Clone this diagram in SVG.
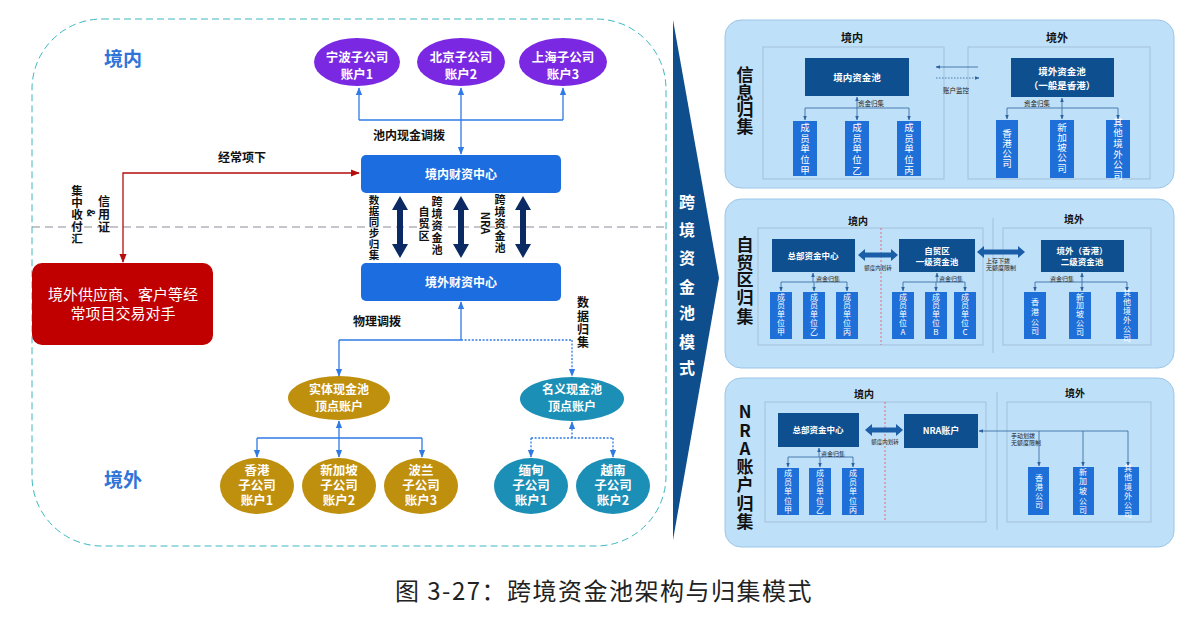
<svg xmlns="http://www.w3.org/2000/svg" width="1198" height="632" viewBox="0 0 1198 632">
  <style>
    text { font-family: "Noto Sans CJK SC", "Noto Sans", sans-serif; }
    .b { font-weight: bold; }
    .w { fill: #ffffff; }
    .c { text-anchor: middle; }
    .zone { font-size: 19px; font-weight: bold; fill: #2f74d8; text-anchor: middle; }
    .lbl { font-size: 12px; font-weight: bold; fill: #111; text-anchor: middle; }
    .vl { font-size: 11px; font-weight: bold; fill: #111; text-anchor: middle; }
    .ell { font-size: 12.5px; font-weight: bold; fill: #fff; text-anchor: middle; }
    .blue { stroke: #2f7ae5; stroke-width: 1.3; fill: none; }
    .dot { stroke-dasharray: 2 1.6; }
    .thin { stroke: #2d62a0; stroke-width: 0.8; fill: none; }
    .panel { fill: #bfe0f9; stroke: #9cc6e8; stroke-width: 1; }
    .region { fill: none; stroke: #a3bfdc; stroke-width: 1; }
    .pool { fill: #0d4f8f; }
    .mem { fill: #1f6fd9; }
    .mt { font-size: 9.5px; fill: #fff; text-anchor: middle; }
    .ms { font-size: 8px; fill: #fff; text-anchor: middle; }
    .pt { font-size: 9.5px; font-weight: bold; fill: #fff; text-anchor: middle; }
    .rl { font-size: 11px; font-weight: bold; fill: #111; text-anchor: middle; }
    .tiny { font-size: 6.5px; fill: #222; }
    .side { font-size: 17px; font-weight: bold; fill: #111; text-anchor: middle; }
  </style>
  <defs>
    <marker id="ab" viewBox="0 0 10 10" refX="9" refY="5" markerWidth="8" markerHeight="8" markerUnits="userSpaceOnUse" orient="auto-start-reverse">
      <path d="M0,1 L10,5 L0,9 z" fill="#2f7ae5"/>
    </marker>
    <marker id="ar" viewBox="0 0 10 10" refX="9" refY="5" markerWidth="9" markerHeight="9" markerUnits="userSpaceOnUse" orient="auto-start-reverse">
      <path d="M0,1 L10,5 L0,9 z" fill="#b50d0d"/>
    </marker>
    <marker id="as" viewBox="0 0 10 10" refX="9" refY="5" markerWidth="4.5" markerHeight="4.5" markerUnits="userSpaceOnUse" orient="auto-start-reverse">
      <path d="M0,1 L10,5 L0,9 z" fill="#2d62a0"/>
    </marker>
  </defs>

  <rect width="1198" height="632" fill="#ffffff"/>

  <!-- left: structure of the pool -->
  <g id="frame">
    <rect x="32" y="19" width="634" height="527" rx="70" fill="none" stroke="#3cb8c2" stroke-width="1" stroke-dasharray="7 4"/>
    <line x1="32" y1="227" x2="668" y2="227" stroke="#8a8c98" stroke-width="1" stroke-dasharray="8 5"/>
    <text class="zone" x="123" y="66">境内</text>
    <text class="zone" x="123" y="487">境外</text>
  </g>

  <g id="connectors">
    <!-- domestic sub-accounts -->
    <path class="blue" d="M359,120 H563"/>
    <line class="blue" x1="359" y1="120" x2="359" y2="88" marker-end="url(#ab)"/>
    <line class="blue" x1="461" y1="120" x2="461" y2="88" marker-end="url(#ab)"/>
    <line class="blue" x1="563" y1="120" x2="563" y2="88" marker-end="url(#ab)"/>
    <line class="blue" x1="461" y1="120" x2="461" y2="154" marker-end="url(#ab)"/>
    <text class="lbl" x="409" y="140">池内现金调拨</text>

    <!-- current account flow -->
    <path d="M123,262 V173 H359" fill="none" stroke="#b50d0d" stroke-width="1.3" marker-start="url(#ar)" marker-end="url(#ar)"/>
    <text class="lbl" x="242" y="162">经常项下</text>
    <text class="vl" style="font-size:11.5px"><tspan x="77" y="195">集</tspan><tspan x="77" y="207">中</tspan><tspan x="77" y="219">收</tspan><tspan x="77" y="231">付</tspan><tspan x="77" y="243">汇</tspan></text>
    <text class="vl" style="font-size:12px"><tspan x="104" y="206">信</tspan><tspan x="104" y="219">用</tspan><tspan x="104" y="232">证</tspan></text>
    <text class="vl" style="font-size:10px" transform="translate(87,213) rotate(90)">&amp;</text>

    <!-- double arrows between centres -->
    <g fill="#0b2a63">
      <path d="M400,196 L408,210 L403,210 L403,244 L408,244 L400,258 L392,244 L397,244 L397,210 L392,210 Z"/>
      <path d="M461,196 L469,210 L464,210 L464,244 L469,244 L461,258 L453,244 L458,244 L458,210 L453,210 Z"/>
      <path d="M523,196 L531,210 L526,210 L526,244 L531,244 L523,258 L515,244 L520,244 L520,210 L515,210 Z"/>
    </g>
    <text class="vl" style="font-size:10.5px"><tspan x="374" y="204">数</tspan><tspan x="374" y="215">据</tspan><tspan x="374" y="226">同</tspan><tspan x="374" y="237">步</tspan><tspan x="374" y="248">归</tspan><tspan x="374" y="259">集</tspan></text>
    <text class="vl"><tspan x="437" y="206">跨</tspan><tspan x="437" y="218">境</tspan><tspan x="437" y="230">资</tspan><tspan x="437" y="242">金</tspan><tspan x="437" y="254">池</tspan></text>
    <text class="vl"><tspan x="424" y="216">自</tspan><tspan x="424" y="228">贸</tspan><tspan x="424" y="240">区</tspan></text>
    <text class="vl"><tspan x="500" y="204">跨</tspan><tspan x="500" y="216">境</tspan><tspan x="500" y="228">资</tspan><tspan x="500" y="240">金</tspan><tspan x="500" y="252">池</tspan></text>
    <text class="vl" transform="translate(481,223) rotate(90)">NRA</text>

    <!-- offshore centre to pools -->
    <line class="blue" x1="461" y1="340" x2="461" y2="302" marker-end="url(#ab)"/>
    <path class="blue" d="M339,340 H461"/>
    <path class="blue dot" d="M461,340 H572"/>
    <line class="blue" x1="339" y1="340" x2="339" y2="376" marker-end="url(#ab)"/>
    <line class="blue dot" x1="572" y1="340" x2="572" y2="376" marker-end="url(#ab)"/>
    <text class="lbl" x="377" y="326">物理调拨</text>
    <text class="lbl"><tspan x="583" y="307">数</tspan><tspan x="583" y="321">据</tspan><tspan x="583" y="334">归</tspan><tspan x="583" y="347">集</tspan></text>

    <!-- physical pool members -->
    <line class="blue" x1="339" y1="438" x2="339" y2="421" marker-end="url(#ab)"/>
    <path class="blue" d="M257,438 H422"/>
    <line class="blue" x1="257" y1="438" x2="257" y2="457" marker-end="url(#ab)"/>
    <line class="blue" x1="339" y1="438" x2="339" y2="457" marker-end="url(#ab)"/>
    <line class="blue" x1="422" y1="438" x2="422" y2="457" marker-end="url(#ab)"/>

    <!-- notional pool members -->
    <line class="blue dot" x1="572" y1="438" x2="572" y2="422" marker-end="url(#ab)"/>
    <path class="blue dot" d="M531,438 H613"/>
    <line class="blue dot" x1="531" y1="438" x2="531" y2="457" marker-end="url(#ab)"/>
    <line class="blue dot" x1="613" y1="438" x2="613" y2="457" marker-end="url(#ab)"/>
  </g>

  <g id="ningbo">
    <ellipse cx="357" cy="62" rx="43" ry="24" fill="#7a28e2"/>
    <text class="ell"><tspan x="357" y="62">宁波子公司</tspan><tspan x="357" y="79">账户1</tspan></text>
  </g>
  <g id="beijing">
    <ellipse cx="461" cy="62" rx="44" ry="24" fill="#7a28e2"/>
    <text class="ell"><tspan x="461" y="62">北京子公司</tspan><tspan x="461" y="79">账户2</tspan></text>
  </g>
  <g id="shanghai">
    <ellipse cx="563" cy="62" rx="44" ry="24" fill="#7a28e2"/>
    <text class="ell"><tspan x="563" y="62">上海子公司</tspan><tspan x="563" y="79">账户3</tspan></text>
  </g>

  <g id="onshore-centre">
    <rect x="361" y="155" width="200" height="38" rx="5" fill="#1c6ee0"/>
    <text class="ell" x="461" y="179" style="font-size:12px">境内财资中心</text>
  </g>
  <g id="offshore-centre">
    <rect x="361" y="263" width="200" height="38" rx="5" fill="#1c6ee0"/>
    <text class="ell" x="461" y="287" style="font-size:12px">境外财资中心</text>
  </g>

  <g id="counterparty">
    <rect x="32" y="263" width="181" height="82" rx="10" fill="#c00000"/>
    <text class="c w" style="font-size:15px"><tspan x="123" y="300">境外供应商、客户等经</tspan><tspan x="123" y="319">常项目交易对手</tspan></text>
  </g>

  <g id="physical-pool">
    <ellipse cx="339" cy="398" rx="51" ry="22" fill="#bf8f0e"/>
    <text class="ell" style="font-size:12px"><tspan x="339" y="394">实体现金池</tspan><tspan x="339" y="411">顶点账户</tspan></text>
  </g>
  <g id="notional-pool">
    <ellipse cx="572" cy="399" rx="52" ry="22" fill="#1b8fb6"/>
    <text class="ell" style="font-size:12px"><tspan x="572" y="394">名义现金池</tspan><tspan x="572" y="411">顶点账户</tspan></text>
  </g>

  <g id="hongkong">
    <ellipse cx="257" cy="486" rx="37" ry="28" fill="#bf8f0e"/>
    <text class="ell"><tspan x="257" y="475">香港</tspan><tspan x="257" y="490">子公司</tspan><tspan x="257" y="505">账户1</tspan></text>
  </g>
  <g id="singapore">
    <ellipse cx="339" cy="486" rx="37" ry="28" fill="#bf8f0e"/>
    <text class="ell"><tspan x="339" y="475">新加坡</tspan><tspan x="339" y="490">子公司</tspan><tspan x="339" y="505">账户2</tspan></text>
  </g>
  <g id="poland">
    <ellipse cx="421" cy="486" rx="37" ry="28" fill="#bf8f0e"/>
    <text class="ell"><tspan x="421" y="475">波兰</tspan><tspan x="421" y="490">子公司</tspan><tspan x="421" y="505">账户3</tspan></text>
  </g>
  <g id="myanmar">
    <ellipse cx="531" cy="486" rx="37" ry="28" fill="#1b8fb6"/>
    <text class="ell"><tspan x="531" y="475">缅甸</tspan><tspan x="531" y="490">子公司</tspan><tspan x="531" y="505">账户1</tspan></text>
  </g>
  <g id="vietnam">
    <ellipse cx="613" cy="486" rx="37" ry="28" fill="#1b8fb6"/>
    <text class="ell"><tspan x="613" y="475">越南</tspan><tspan x="613" y="490">子公司</tspan><tspan x="613" y="505">账户2</tspan></text>
  </g>

  <!-- chevron between the halves -->
  <g id="mode-arrow">
    <polygon points="673,20 719,278 673,540" fill="#0f4e8c"/>
    <text class="b w c" style="font-size:16px"><tspan x="687" y="208">跨</tspan><tspan x="687" y="236">境</tspan><tspan x="687" y="264">资</tspan><tspan x="687" y="293">金</tspan><tspan x="687" y="319">池</tspan><tspan x="687" y="348">模</tspan><tspan x="687" y="374">式</tspan></text>
  </g>

  <!-- panel 1: information pooling -->
  <g id="panel-info">
    <rect class="panel" x="725" y="20" width="449" height="168" rx="16"/>
    <text class="side"><tspan x="745" y="81">信</tspan><tspan x="745" y="99">息</tspan><tspan x="745" y="116">归</tspan><tspan x="745" y="133">集</tspan></text>
    <text class="rl" x="852" y="42">境内</text>
    <text class="rl" x="1057" y="42">境外</text>
    <rect class="region" x="763" y="47" width="181" height="132"/>
    <rect class="region" x="968" y="47" width="182" height="132"/>

    <rect class="pool" x="805" y="58" width="104" height="38"/>
    <text class="pt" x="857" y="81">境内资金池</text>
    <rect class="pool" x="1011" y="58" width="103" height="39"/>
    <text class="pt"><tspan x="1062" y="75">境外资金池</tspan><tspan x="1062" y="89">（一般是香港）</tspan></text>

    <line class="thin" x1="978" y1="67" x2="936" y2="67" marker-end="url(#as)"/>
    <line class="thin" x1="936" y1="78" x2="979" y2="78" stroke-dasharray="1.5 1.5" marker-end="url(#as)"/>
    <text class="tiny" x="943" y="93">账户监控</text>

    <line class="thin" x1="857" y1="108" x2="857" y2="97" marker-end="url(#as)"/>
    <path class="thin" d="M805,108 H909"/>
    <line class="thin" x1="805" y1="108" x2="805" y2="120" marker-end="url(#as)"/>
    <line class="thin" x1="857" y1="108" x2="857" y2="120" marker-end="url(#as)"/>
    <line class="thin" x1="909" y1="108" x2="909" y2="120" marker-end="url(#as)"/>
    <text class="tiny" x="858" y="106">资金归集</text>

    <line class="thin" x1="1062" y1="108" x2="1062" y2="98" marker-end="url(#as)"/>
    <path class="thin" d="M1007,108 H1118"/>
    <line class="thin" x1="1007" y1="108" x2="1007" y2="119" marker-end="url(#as)"/>
    <line class="thin" x1="1062" y1="108" x2="1062" y2="119" marker-end="url(#as)"/>
    <line class="thin" x1="1118" y1="108" x2="1118" y2="119" marker-end="url(#as)"/>
    <text class="tiny" x="1024" y="106">资金归集</text>

    <rect class="mem" x="793" y="121" width="24" height="55"/>
    <text class="mt"><tspan x="805" y="131">成</tspan><tspan x="805" y="142">员</tspan><tspan x="805" y="152">单</tspan><tspan x="805" y="163">位</tspan><tspan x="805" y="174">甲</tspan></text>
    <rect class="mem" x="845" y="121" width="24" height="55"/>
    <text class="mt"><tspan x="857" y="131">成</tspan><tspan x="857" y="142">员</tspan><tspan x="857" y="152">单</tspan><tspan x="857" y="163">位</tspan><tspan x="857" y="174">乙</tspan></text>
    <rect class="mem" x="897" y="121" width="24" height="55"/>
    <text class="mt"><tspan x="909" y="131">成</tspan><tspan x="909" y="142">员</tspan><tspan x="909" y="152">单</tspan><tspan x="909" y="163">位</tspan><tspan x="909" y="174">丙</tspan></text>

    <rect class="mem" x="996" y="120" width="22" height="58"/>
    <text class="mt"><tspan x="1007" y="137">香</tspan><tspan x="1007" y="147">港</tspan><tspan x="1007" y="157">公</tspan><tspan x="1007" y="167">司</tspan></text>
    <rect class="mem" x="1050" y="120" width="24" height="58"/>
    <text class="mt"><tspan x="1062" y="131">新</tspan><tspan x="1062" y="141">加</tspan><tspan x="1062" y="151">坡</tspan><tspan x="1062" y="161">公</tspan><tspan x="1062" y="172">司</tspan></text>
    <rect class="mem" x="1106" y="120" width="24" height="58"/>
    <text class="mt"><tspan x="1118" y="126">其</tspan><tspan x="1118" y="136">他</tspan><tspan x="1118" y="147">境</tspan><tspan x="1118" y="158">外</tspan><tspan x="1118" y="168">公</tspan><tspan x="1118" y="179">司</tspan></text>
  </g>

  <!-- panel 2: free trade zone pooling -->
  <g id="panel-ftz">
    <rect class="panel" x="725" y="199" width="449" height="169" rx="16"/>
    <text class="side"><tspan x="745" y="251">自</tspan><tspan x="745" y="269">贸</tspan><tspan x="745" y="286">区</tspan><tspan x="745" y="304">归</tspan><tspan x="745" y="323">集</tspan></text>
    <text class="rl" x="858" y="225" style="font-size:10px">境内</text>
    <text class="rl" x="1074" y="223" style="font-size:10px">境外</text>
    <rect class="region" x="758" y="228" width="225" height="117"/>
    <rect class="region" x="1003" y="228" width="148" height="117"/>
    <line x1="881" y1="228" x2="881" y2="345" stroke="#e06a7a" stroke-width="1" stroke-dasharray="2 2"/>
    <line x1="993" y1="218" x2="993" y2="353" stroke="#a3bfdc" stroke-width="1"/>

    <rect class="pool" x="772" y="239" width="83" height="33"/>
    <text class="pt" x="813" y="259" style="font-size:8.5px">总部资金中心</text>
    <rect class="pool" x="899" y="239" width="76" height="33"/>
    <text class="pt" style="font-size:8.5px"><tspan x="937" y="254">自贸区</tspan><tspan x="937" y="265">一级资金池</tspan></text>
    <rect class="pool" x="1041" y="240" width="83" height="32"/>
    <text class="pt" style="font-size:8.5px"><tspan x="1082" y="254">境外（香港）</tspan><tspan x="1082" y="265">二级资金池</tspan></text>

    <path d="M858,255 L865,249 L865,252.5 L891,252.5 L891,249 L898,255 L891,261 L891,257.5 L865,257.5 L865,261 Z" fill="#1b5ea8"/>
    <text class="tiny c" x="878" y="270" style="font-size:5.5px">额度内划转</text>
    <path d="M977,252 L984,246 L984,249.5 L1018,249.5 L1018,246 L1025,252 L1018,258 L1018,254.5 L984,254.5 L984,258 Z" fill="#1b5ea8"/>
    <text class="tiny" style="font-size:6px"><tspan x="986" y="263">上存下拨</tspan><tspan x="986" y="270">无额度限制</tspan></text>

    <line class="thin" x1="813" y1="282" x2="813" y2="273" marker-end="url(#as)"/>
    <path class="thin" d="M781,282 H847"/>
    <line class="thin" x1="781" y1="282" x2="781" y2="291" marker-end="url(#as)"/>
    <line class="thin" x1="814" y1="282" x2="814" y2="291" marker-end="url(#as)"/>
    <line class="thin" x1="847" y1="282" x2="847" y2="291" marker-end="url(#as)"/>
    <text class="tiny" x="816" y="281" style="font-size:6px">资金归集</text>

    <line class="thin" x1="937" y1="282" x2="937" y2="273" marker-end="url(#as)"/>
    <path class="thin" d="M903,282 H965"/>
    <line class="thin" x1="903" y1="282" x2="903" y2="291" marker-end="url(#as)"/>
    <line class="thin" x1="936" y1="282" x2="936" y2="291" marker-end="url(#as)"/>
    <line class="thin" x1="965" y1="282" x2="965" y2="291" marker-end="url(#as)"/>
    <text class="tiny" x="939" y="281" style="font-size:6px">资金归集</text>

    <line class="thin" x1="1082" y1="282" x2="1082" y2="273" marker-end="url(#as)"/>
    <path class="thin" d="M1035,282 H1127"/>
    <line class="thin" x1="1035" y1="282" x2="1035" y2="291" marker-end="url(#as)"/>
    <line class="thin" x1="1082" y1="282" x2="1082" y2="291" marker-end="url(#as)"/>
    <line class="thin" x1="1127" y1="282" x2="1127" y2="291" marker-end="url(#as)"/>
    <text class="tiny" x="1050" y="281" style="font-size:6px">资金归集</text>

    <rect class="mem" x="770" y="292" width="22" height="47"/>
    <text class="ms"><tspan x="781" y="300">成</tspan><tspan x="781" y="308">员</tspan><tspan x="781" y="317">单</tspan><tspan x="781" y="326">位</tspan><tspan x="781" y="335">甲</tspan></text>
    <rect class="mem" x="803" y="292" width="22" height="47"/>
    <text class="ms"><tspan x="814" y="300">成</tspan><tspan x="814" y="308">员</tspan><tspan x="814" y="317">单</tspan><tspan x="814" y="326">位</tspan><tspan x="814" y="335">乙</tspan></text>
    <rect class="mem" x="836" y="292" width="22" height="47"/>
    <text class="ms"><tspan x="847" y="300">成</tspan><tspan x="847" y="308">员</tspan><tspan x="847" y="317">单</tspan><tspan x="847" y="326">位</tspan><tspan x="847" y="335">丙</tspan></text>

    <rect class="mem" x="892" y="292" width="22" height="47"/>
    <text class="ms"><tspan x="903" y="300">成</tspan><tspan x="903" y="308">员</tspan><tspan x="903" y="317">单</tspan><tspan x="903" y="326">位</tspan><tspan x="903" y="335">A</tspan></text>
    <rect class="mem" x="925" y="292" width="22" height="47"/>
    <text class="ms"><tspan x="936" y="300">成</tspan><tspan x="936" y="308">员</tspan><tspan x="936" y="317">单</tspan><tspan x="936" y="326">位</tspan><tspan x="936" y="335">B</tspan></text>
    <rect class="mem" x="954" y="292" width="22" height="47"/>
    <text class="ms"><tspan x="965" y="300">成</tspan><tspan x="965" y="308">员</tspan><tspan x="965" y="317">单</tspan><tspan x="965" y="326">位</tspan><tspan x="965" y="335">C</tspan></text>

    <rect class="mem" x="1024" y="292" width="22" height="47"/>
    <text class="ms"><tspan x="1035" y="305">香</tspan><tspan x="1035" y="315">港</tspan><tspan x="1035" y="325">公</tspan><tspan x="1035" y="334">司</tspan></text>
    <rect class="mem" x="1069" y="292" width="22" height="47"/>
    <text class="ms"><tspan x="1080" y="300">新</tspan><tspan x="1080" y="308">加</tspan><tspan x="1080" y="317">坡</tspan><tspan x="1080" y="326">公</tspan><tspan x="1080" y="335">司</tspan></text>
    <rect class="mem" x="1116" y="292" width="22" height="47"/>
    <text class="ms"><tspan x="1127" y="296">其</tspan><tspan x="1127" y="305">他</tspan><tspan x="1127" y="314">境</tspan><tspan x="1127" y="323">外</tspan><tspan x="1127" y="332">公</tspan><tspan x="1127" y="341">司</tspan></text>
  </g>

  <!-- panel 3: NRA account pooling -->
  <g id="panel-nra">
    <rect class="panel" x="725" y="378" width="449" height="169" rx="16"/>
    <text class="side"><tspan x="745" y="418">N</tspan><tspan x="745" y="437">R</tspan><tspan x="745" y="455">A</tspan><tspan x="745" y="473">账</tspan><tspan x="745" y="491">户</tspan><tspan x="745" y="510">归</tspan><tspan x="745" y="528">集</tspan></text>
    <text class="rl" x="864" y="398" style="font-size:10px">境内</text>
    <text class="rl" x="1075" y="397" style="font-size:10px">境外</text>
    <rect class="region" x="765" y="402" width="221" height="120"/>
    <rect class="region" x="1007" y="402" width="144" height="120"/>
    <line x1="885" y1="402" x2="885" y2="522" stroke="#e06a7a" stroke-width="1" stroke-dasharray="2 2"/>
    <line x1="997" y1="392" x2="997" y2="530" stroke="#a3bfdc" stroke-width="1"/>

    <rect class="pool" x="778" y="413" width="81" height="34"/>
    <text class="pt" x="818" y="433" style="font-size:8.5px">总部资金中心</text>
    <rect class="pool" x="904" y="414" width="74" height="34"/>
    <text class="pt" x="941" y="434" style="font-size:9px">NRA账户</text>

    <path d="M865,430 L872,424 L872,427.5 L896,427.5 L896,424 L903,430 L896,436 L896,432.5 L872,432.5 L872,436 Z" fill="#1b5ea8"/>
    <text class="tiny c" x="885" y="444" style="font-size:5.5px">额度内划转</text>

    <line class="thin" x1="819" y1="457" x2="819" y2="448" marker-end="url(#as)"/>
    <path class="thin" d="M788,457 H853"/>
    <line class="thin" x1="788" y1="457" x2="788" y2="467" marker-end="url(#as)"/>
    <line class="thin" x1="820" y1="457" x2="820" y2="467" marker-end="url(#as)"/>
    <line class="thin" x1="853" y1="457" x2="853" y2="467" marker-end="url(#as)"/>
    <text class="tiny" x="821" y="456" style="font-size:6px">资金归集</text>

    <line class="thin" x1="1128" y1="431" x2="979" y2="431" marker-end="url(#as)"/>
    <line class="thin" x1="1039" y1="431" x2="1039" y2="466" marker-end="url(#as)"/>
    <line class="thin" x1="1083" y1="431" x2="1083" y2="466" marker-end="url(#as)"/>
    <line class="thin" x1="1128" y1="431" x2="1128" y2="466" marker-end="url(#as)"/>
    <text class="tiny" style="font-size:6px"><tspan x="1011" y="438">手动划拨</tspan><tspan x="1011" y="445">无额度限制</tspan></text>

    <rect class="mem" x="777" y="468" width="22" height="47"/>
    <text class="ms"><tspan x="788" y="476">成</tspan><tspan x="788" y="485">员</tspan><tspan x="788" y="494">单</tspan><tspan x="788" y="504">位</tspan><tspan x="788" y="513">甲</tspan></text>
    <rect class="mem" x="809" y="468" width="22" height="47"/>
    <text class="ms"><tspan x="820" y="476">成</tspan><tspan x="820" y="485">员</tspan><tspan x="820" y="494">单</tspan><tspan x="820" y="504">位</tspan><tspan x="820" y="513">乙</tspan></text>
    <rect class="mem" x="842" y="468" width="22" height="47"/>
    <text class="ms"><tspan x="853" y="476">成</tspan><tspan x="853" y="485">员</tspan><tspan x="853" y="494">单</tspan><tspan x="853" y="504">位</tspan><tspan x="853" y="513">丙</tspan></text>

    <rect class="mem" x="1028" y="467" width="21" height="48"/>
    <text class="ms"><tspan x="1039" y="481">香</tspan><tspan x="1039" y="490">港</tspan><tspan x="1039" y="499">公</tspan><tspan x="1039" y="508">司</tspan></text>
    <rect class="mem" x="1073" y="467" width="21" height="48"/>
    <text class="ms"><tspan x="1083" y="475">新</tspan><tspan x="1083" y="484">加</tspan><tspan x="1083" y="494">坡</tspan><tspan x="1083" y="504">公</tspan><tspan x="1083" y="513">司</tspan></text>
    <rect class="mem" x="1118" y="467" width="21" height="48"/>
    <text class="ms"><tspan x="1128" y="471">其</tspan><tspan x="1128" y="480">他</tspan><tspan x="1128" y="490">境</tspan><tspan x="1128" y="499">外</tspan><tspan x="1128" y="508">公</tspan><tspan x="1128" y="517">司</tspan></text>
  </g>

  <text x="604" y="600" text-anchor="middle" style="font-size:24px; letter-spacing:1.5px; fill:#222">图 3-27：跨境资金池架构与归集模式</text>
</svg>
